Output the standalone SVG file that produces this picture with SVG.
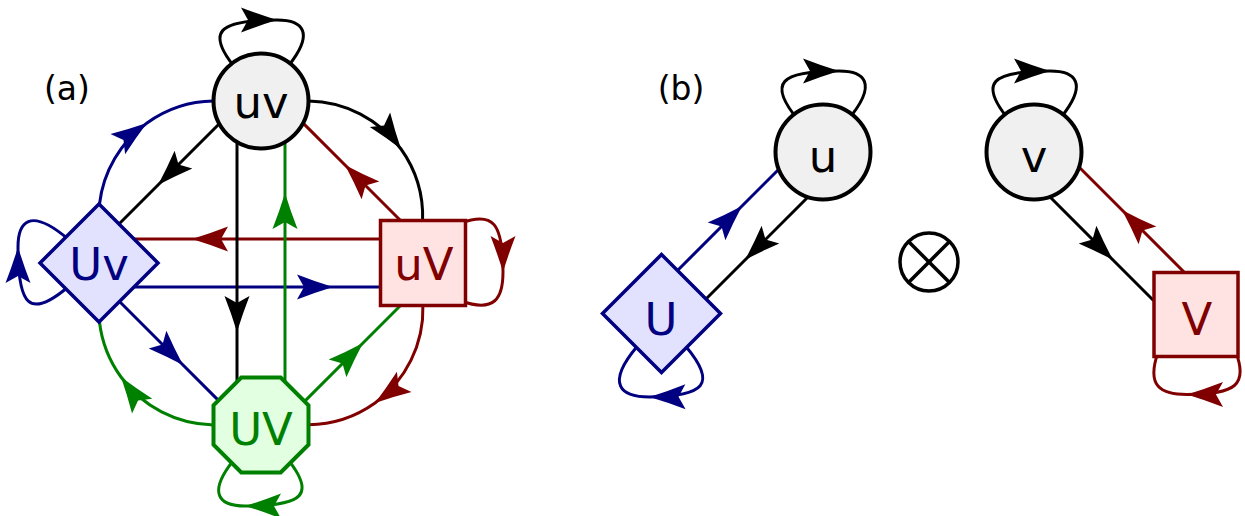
<svg xmlns="http://www.w3.org/2000/svg" width="1245" height="516" viewBox="0 0 1245 516">
<style>
.e{fill:none;stroke-width:3}
.k{stroke:#000;marker-mid:url(#mk)}
.b{stroke:#000080;marker-mid:url(#mb)}
.r{stroke:#800000;marker-mid:url(#mr)}
.g{stroke:#008000;marker-mid:url(#mg)}
.t{font-family:"DejaVu Sans",sans-serif;font-size:45px;text-anchor:middle}
.lab{font-family:"DejaVu Sans",sans-serif;font-size:33px;text-anchor:middle;fill:#000}
.nk{fill:#f0f0f0;stroke:#000;stroke-width:4}
.nb{fill:#e2e2ff;stroke:#000080;stroke-width:3.5}
.nr{fill:#ffe2e2;stroke:#800000;stroke-width:3.5}
.ng{fill:#e2ffe2;stroke:#008000;stroke-width:4}
</style>
<defs>
<path id="ah" d="M0,0 Q-18,-5.5 -36,-12.5 L-29,0 L-36,12.5 Q-18,5.5 0,0 Z"/>
<marker id="mk" viewBox="-37 -14 39 28" refX="0" refY="0" markerWidth="39" markerHeight="28" markerUnits="userSpaceOnUse" orient="auto"><use href="#ah" fill="#000"/></marker>
<marker id="mb" viewBox="-37 -14 39 28" refX="0" refY="0" markerWidth="39" markerHeight="28" markerUnits="userSpaceOnUse" orient="auto"><use href="#ah" fill="#000080"/></marker>
<marker id="mr" viewBox="-37 -14 39 28" refX="0" refY="0" markerWidth="39" markerHeight="28" markerUnits="userSpaceOnUse" orient="auto"><use href="#ah" fill="#800000"/></marker>
<marker id="mg" viewBox="-37 -14 39 28" refX="0" refY="0" markerWidth="39" markerHeight="28" markerUnits="userSpaceOnUse" orient="auto"><use href="#ah" fill="#008000"/></marker>
</defs>

<g id="connectors">
<!-- (a) -->
<path class="e k" d="M219.3,123.7 L158,185 L119,224"/>
<path class="e b" d="M99.5,204 A116.3 116.3 0 0 1 147,123 A116.3 116.3 0 0 1 213.5,101"/>
<path class="e k" d="M308.5,101 A116.3 116.3 0 0 1 401,149 A116.3 116.3 0 0 1 422.6,220.5"/>
<path class="e r" d="M400.5,220.5 L345,165 L303.1,123.1"/>
<path class="e r" d="M380.5,239 L192,239 L134,239"/>
<path class="e b" d="M134,287 L333,287 L380.5,287"/>
<path class="e k" d="M237,142 L237,332 L237,381.8"/>
<path class="e g" d="M285,381.8 L285,193 L285,142"/>
<path class="e b" d="M119.5,301.5 L183,365 L218.4,400.4"/>
<path class="e g" d="M213.5,424.9 A116.3 116.3 0 0 1 121,377 A116.3 116.3 0 0 1 99.5,322"/>
<path class="e g" d="M304.6,401.4 L363,343 L400.5,305.5"/>
<path class="e r" d="M422.9,305.5 A116.3 116.3 0 0 1 375,403 A116.3 116.3 0 0 1 308.5,424.7"/>
<path class="e k" d="M-24,-31 C-57,-70 -42,-81 16,-81 C40,-81 57,-70 24,-31" transform="translate(261,101)"/>
<path class="e r" d="M40,38 C52,70 40,80 -9,80 C-35,80 -50,72 -38,38" transform="translate(423,263) rotate(-90)"/>
<path class="e g" d="M-24,-31 C-57,-70 -42,-81 16,-81 C40,-81 57,-70 24,-31" transform="translate(261,425) rotate(180)"/>
<path class="e b" d="M-24,-31 C-57,-70 -42,-81 16,-81 C40,-81 57,-70 24,-31" transform="translate(99,263) rotate(-90)"/>
<!-- (b) -->
<path class="e b" d="M677.5,270.5 L742,206 L778.8,169.2"/>
<path class="e k" d="M808,197 L745,260 L706,299"/>
<path class="e k" d="M1049.8,196.8 L1113,260 L1153.5,300.5"/>
<path class="e r" d="M1184,272 L1122,210 L1079,167"/>
<path class="e k" d="M-24,-31 C-57,-70 -42,-81 16,-81 C40,-81 57,-70 24,-31" transform="translate(823,152)"/>
<path class="e k" d="M-24,-31 C-57,-70 -42,-81 16,-81 C40,-81 57,-70 24,-31" transform="translate(1034,152)"/>
<path class="e b" d="M-24,-31 C-57,-70 -42,-81 12,-82 C40,-82 57,-70 24,-31" transform="translate(661.5,315) rotate(180)"/>
<path class="e r" d="M40,38 C52,70 40,80 -9,80 C-35,80 -50,72 -38,38" transform="translate(1196,314.5)"/>
</g>

<g id="node-uv">
<circle class="nk" cx="261" cy="101" r="47.5"/>
<text class="t" x="261" y="118" fill="#000">uv</text>
</g>
<g id="node-Uv">
<polygon class="nb" points="99,204 158,263 99,322 40,263"/>
<text class="t" x="99" y="280" fill="#000080">Uv</text>
</g>
<g id="node-uV">
<rect class="nr" x="380.5" y="220.5" width="85" height="85"/>
<text class="t" x="424" y="280" fill="#800000">uV</text>
</g>
<g id="node-UV">
<polygon class="ng" points="241.3,377.5 280.7,377.5 308.5,405.3 308.5,444.7 280.7,472.5 241.3,472.5 213.5,444.7 213.5,405.3"/>
<text class="t" x="261" y="445" fill="#008000">UV</text>
</g>
<g id="node-u">
<circle class="nk" cx="823" cy="152" r="47.5"/>
<text class="t" x="823" y="172" fill="#000">u</text>
</g>
<g id="node-U">
<polygon class="nb" points="661.5,254.5 720.5,313.5 661.5,372.5 602.5,313.5"/>
<text class="t" x="661" y="335" fill="#000080">U</text>
</g>
<g id="node-v">
<circle class="nk" cx="1034" cy="152" r="47.5"/>
<text class="t" x="1034" y="172" fill="#000">v</text>
</g>
<g id="node-V">
<rect class="nr" x="1154" y="272.5" width="84" height="84"/>
<text class="t" x="1197" y="335" fill="#800000">V</text>
</g>
<g id="otimes" fill="none" stroke="#000" stroke-width="3.5">
<circle cx="929" cy="262" r="29"/>
<line x1="908.5" y1="241.5" x2="949.5" y2="282.5"/>
<line x1="949.5" y1="241.5" x2="908.5" y2="282.5"/>
</g>
<text class="lab" x="67" y="100">(a)</text>
<text class="lab" x="681" y="100">(b)</text>
</svg>
